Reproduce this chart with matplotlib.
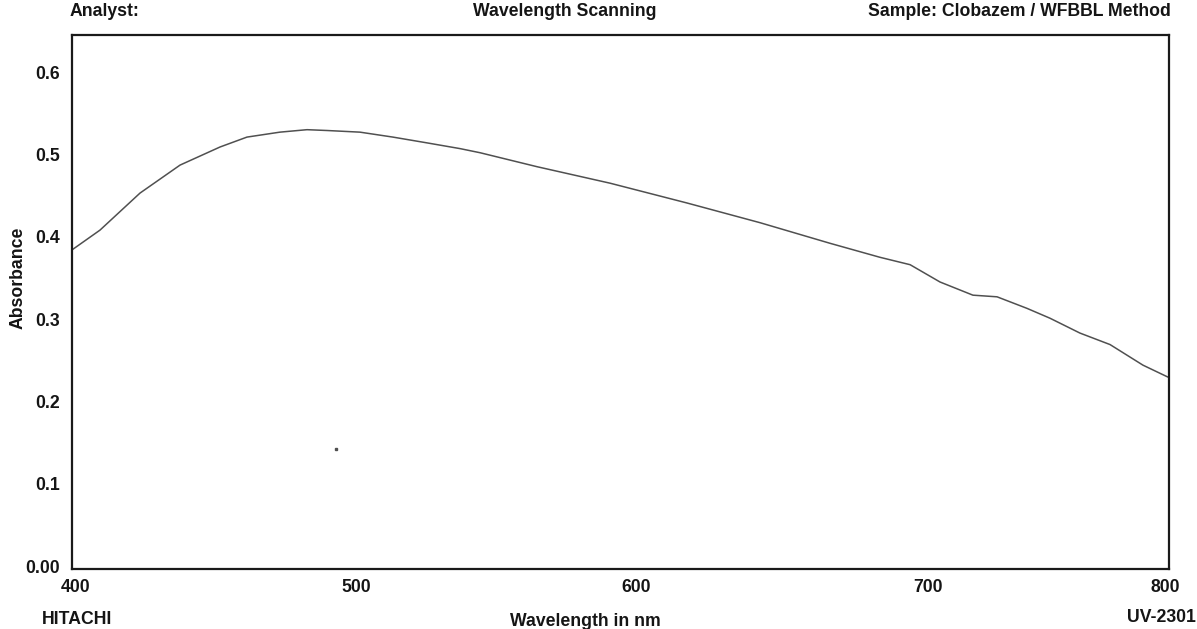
import matplotlib
matplotlib.use("Agg")
import matplotlib.pyplot as plt
import matplotlib.transforms as mtransforms

# ---- data ----
wavelength_nm = [400.0, 410.2, 424.8, 439.4, 454.0, 463.8, 475.8, 485.7, 493.0,
                 505.0, 517.0, 529.4, 541.5, 548.8, 569.6, 596.2, 624.2, 650.9,
                 676.4, 694.6, 705.6, 716.5, 728.5, 737.3, 748.2, 756.6, 767.5,
                 778.5, 790.5, 799.3, 800.0]
absorbance = [0.384, 0.408, 0.453, 0.487, 0.509, 0.521, 0.527, 0.530, 0.529,
              0.527, 0.521, 0.514, 0.507, 0.502, 0.485, 0.465, 0.441, 0.417,
              0.392, 0.375, 0.366, 0.345, 0.329, 0.327, 0.313, 0.301, 0.283,
              0.269, 0.244, 0.230, 0.229]
stray_point_nm = [496.3]
stray_point_abs = [0.142]

x_ticks = [400, 500, 600, 700, 800]
x_tick_labels = ["400", "500", "600", "700", "800"]
y_ticks = [0.0, 0.1, 0.2, 0.3, 0.4, 0.5, 0.6]
y_tick_labels = ["0.00", "0.1", "0.2", "0.3", "0.4", "0.5", "0.6"]

# ---- styling ----
FONT = ["Liberation Sans", "DejaVu Sans"]
plt.rcParams['font.family'] = FONT
FS = 12.7
TXT = "#151515"
x_label_offsets_px = [4, 10, 16, 33, -4]

W, H = 1197, 629
fig = plt.figure(figsize=(W / 100, H / 100), dpi=100)
fig.patch.set_facecolor("white")
ax = fig.add_axes([72 / W, (H - 569) / H, (1169 - 72) / W, (569 - 35) / H])

ax.plot(wavelength_nm, absorbance, color="#505050", linewidth=1.1)
ax.plot(stray_point_nm, stray_point_abs, linestyle="none", marker="s",
        markersize=1.5, color="#505050")

ax.set_xlim(400, 800)
ax.set_ylim(-0.0036, 0.645)

for sp in ax.spines.values():
    sp.set_linewidth(1.6)
    sp.set_color("#1a1a1a")

ax.set_yticks(y_ticks)
ax.set_yticklabels(y_tick_labels, fontsize=FS, color=TXT, fontweight="bold")
ax.tick_params(axis="y", length=0, pad=9)
ax.set_xticks(x_ticks)
ax.set_xticklabels([])
ax.tick_params(axis="x", length=0)

base = mtransforms.blended_transform_factory(ax.transData, ax.transAxes)
for xv, lab, dx in zip(x_ticks, x_tick_labels, x_label_offsets_px):
    tr = base + mtransforms.ScaledTranslation(dx / 100, 0, fig.dpi_scale_trans)
    ax.text(xv, -0.034, lab, transform=tr, ha="center", va="center",
            fontsize=FS, color=TXT, fontweight="bold")

def ftext(px, py, s, ha="left", rot=0):
    fig.text(px / W, 1 - py / H, s, ha=ha, va="center", fontsize=FS,
             color=TXT, rotation=rot, fontweight="bold")

ftext(70, 12, "Analyst:")
ftext(565, 11, "Wavelength Scanning", ha="center")
ftext(1171, 12, "Sample: Clobazem / WFBBL Method", ha="right")
ftext(42, 619, "HITACHI")
ftext(585, 621, "Wavelength in nm", ha="center")
ftext(1196, 617, "UV-2301", ha="right")
ftext(18, 278, "Absorbance", ha="center", rot=90)

fig.savefig("out.png", dpi=100, facecolor="white")
